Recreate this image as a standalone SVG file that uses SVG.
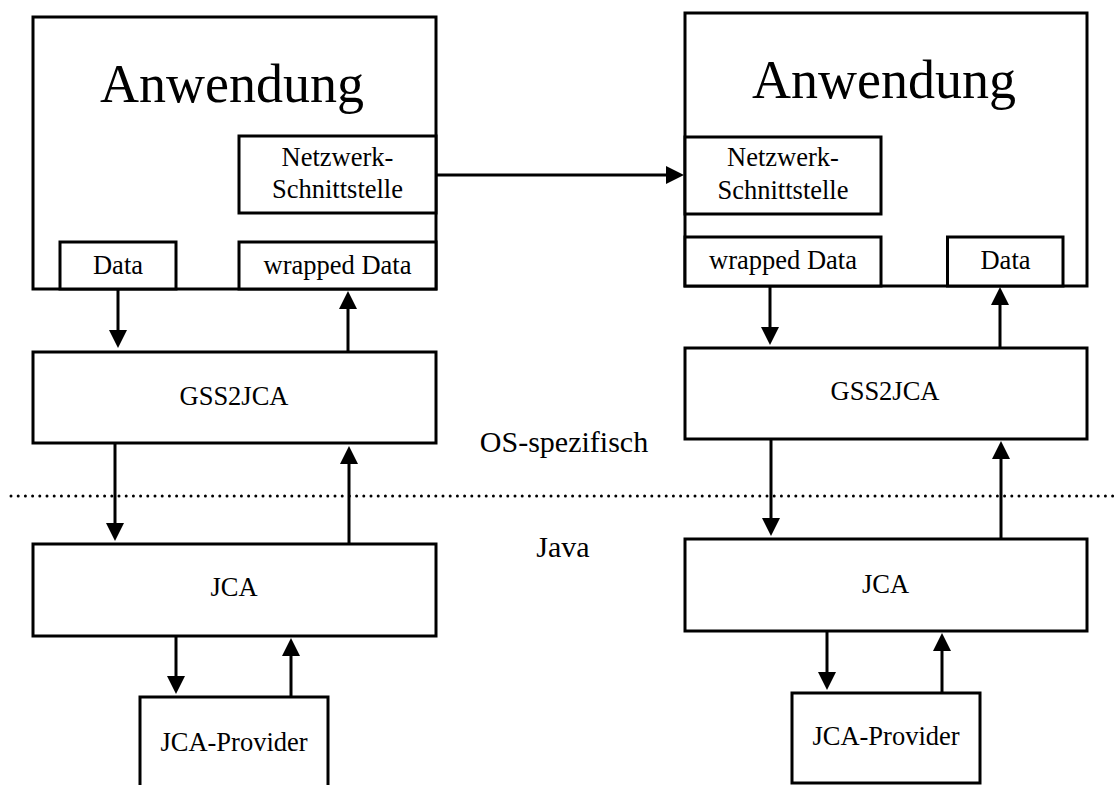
<svg xmlns="http://www.w3.org/2000/svg" width="1120" height="785" viewBox="0 0 1120 785">
  <style>
    .box { fill: #fff; stroke: #000; stroke-width: 3; }
    .t { font-family: "Liberation Serif", "Times New Roman", serif; fill: #000; text-anchor: middle; }
    .big { font-size: 54px; }
    .lbl { font-size: 26.5px; }
    .layer { font-size: 30px; }
    .arrow { stroke: #000; stroke-width: 3; fill: none; marker-end: url(#head); }
    .sep { stroke: #000; stroke-width: 3; stroke-linecap: round; stroke-dasharray: 0 7.2; }
  </style>
  <defs>
    <marker id="head" markerUnits="userSpaceOnUse" markerWidth="18" markerHeight="18" refX="8" refY="9" orient="auto">
      <path d="M0,0 L18,9 L0,18 Z" fill="#000"/>
    </marker>
  </defs>
  <rect width="1120" height="785" fill="#fff"/>

  <!-- layer separator -->
  <line class="sep" x1="11" y1="496" x2="1118" y2="496"/>
  <text class="t layer" x="564" y="452">OS-spezifisch</text>
  <text class="t layer" x="563" y="557">Java</text>

  <!-- left stack -->
  <g id="app-left">
    <rect class="box" x="33" y="17" width="403" height="272"/>
    <text class="t big" x="232" y="102">Anwendung</text>
  </g>
  <g id="net-left">
    <rect class="box" x="239" y="136" width="197" height="77"/>
    <text class="t lbl" x="337.5" y="166">Netzwerk-</text>
    <text class="t lbl" x="337.5" y="198">Schnittstelle</text>
  </g>
  <g id="data-left">
    <rect class="box" x="60" y="242" width="116" height="47"/>
    <text class="t lbl" x="118" y="274">Data</text>
  </g>
  <g id="wrapped-left">
    <rect class="box" x="239" y="242" width="197" height="47"/>
    <text class="t lbl" x="337.5" y="274">wrapped Data</text>
  </g>
  <g id="gss-left">
    <rect class="box" x="33" y="352" width="403" height="91"/>
    <text class="t lbl" x="234" y="405">GSS2JCA</text>
  </g>
  <g id="jca-left">
    <rect class="box" x="33" y="544" width="403" height="92"/>
    <text class="t lbl" x="234" y="596">JCA</text>
  </g>
  <g id="provider-left">
    <rect class="box" x="140" y="697" width="188" height="100"/>
    <text class="t lbl" x="234" y="751">JCA-Provider</text>
  </g>

  <!-- right stack -->
  <g id="app-right">
    <rect class="box" x="685" y="13" width="402" height="273"/>
    <text class="t big" x="884" y="98">Anwendung</text>
  </g>
  <g id="net-right">
    <rect class="box" x="685" y="137" width="196" height="77"/>
    <text class="t lbl" x="783" y="166">Netzwerk-</text>
    <text class="t lbl" x="783" y="199">Schnittstelle</text>
  </g>
  <g id="wrapped-right">
    <rect class="box" x="685" y="237" width="196" height="49"/>
    <text class="t lbl" x="783" y="269">wrapped Data</text>
  </g>
  <g id="data-right">
    <rect class="box" x="947.5" y="237" width="115.5" height="49"/>
    <text class="t lbl" x="1005.5" y="269">Data</text>
  </g>
  <g id="gss-right">
    <rect class="box" x="685" y="348" width="402" height="91"/>
    <text class="t lbl" x="885" y="400">GSS2JCA</text>
  </g>
  <g id="jca-right">
    <rect class="box" x="685" y="539" width="402" height="92"/>
    <text class="t lbl" x="885.5" y="593">JCA</text>
  </g>
  <g id="provider-right">
    <rect class="box" x="792" y="693" width="188" height="90"/>
    <text class="t lbl" x="886" y="745">JCA-Provider</text>
  </g>

  <!-- connectors -->
  <g id="connectors">
    <line class="arrow" x1="118" y1="289" x2="118" y2="338"/>
    <line class="arrow" x1="348" y1="352" x2="348" y2="301"/>
    <line class="arrow" x1="115" y1="443" x2="115" y2="531"/>
    <line class="arrow" x1="349" y1="544" x2="349" y2="456"/>
    <line class="arrow" x1="176" y1="636" x2="176" y2="684"/>
    <line class="arrow" x1="291" y1="697" x2="291" y2="648"/>

    <line class="arrow" x1="770" y1="286" x2="770" y2="335"/>
    <line class="arrow" x1="1000" y1="348" x2="1000" y2="297"/>
    <line class="arrow" x1="771" y1="439" x2="771" y2="526"/>
    <line class="arrow" x1="1001" y1="539" x2="1001" y2="451"/>
    <line class="arrow" x1="827" y1="631" x2="827" y2="680"/>
    <line class="arrow" x1="942" y1="693" x2="942" y2="643"/>

    <line class="arrow" x1="436" y1="175" x2="674" y2="175"/>
  </g>
</svg>
